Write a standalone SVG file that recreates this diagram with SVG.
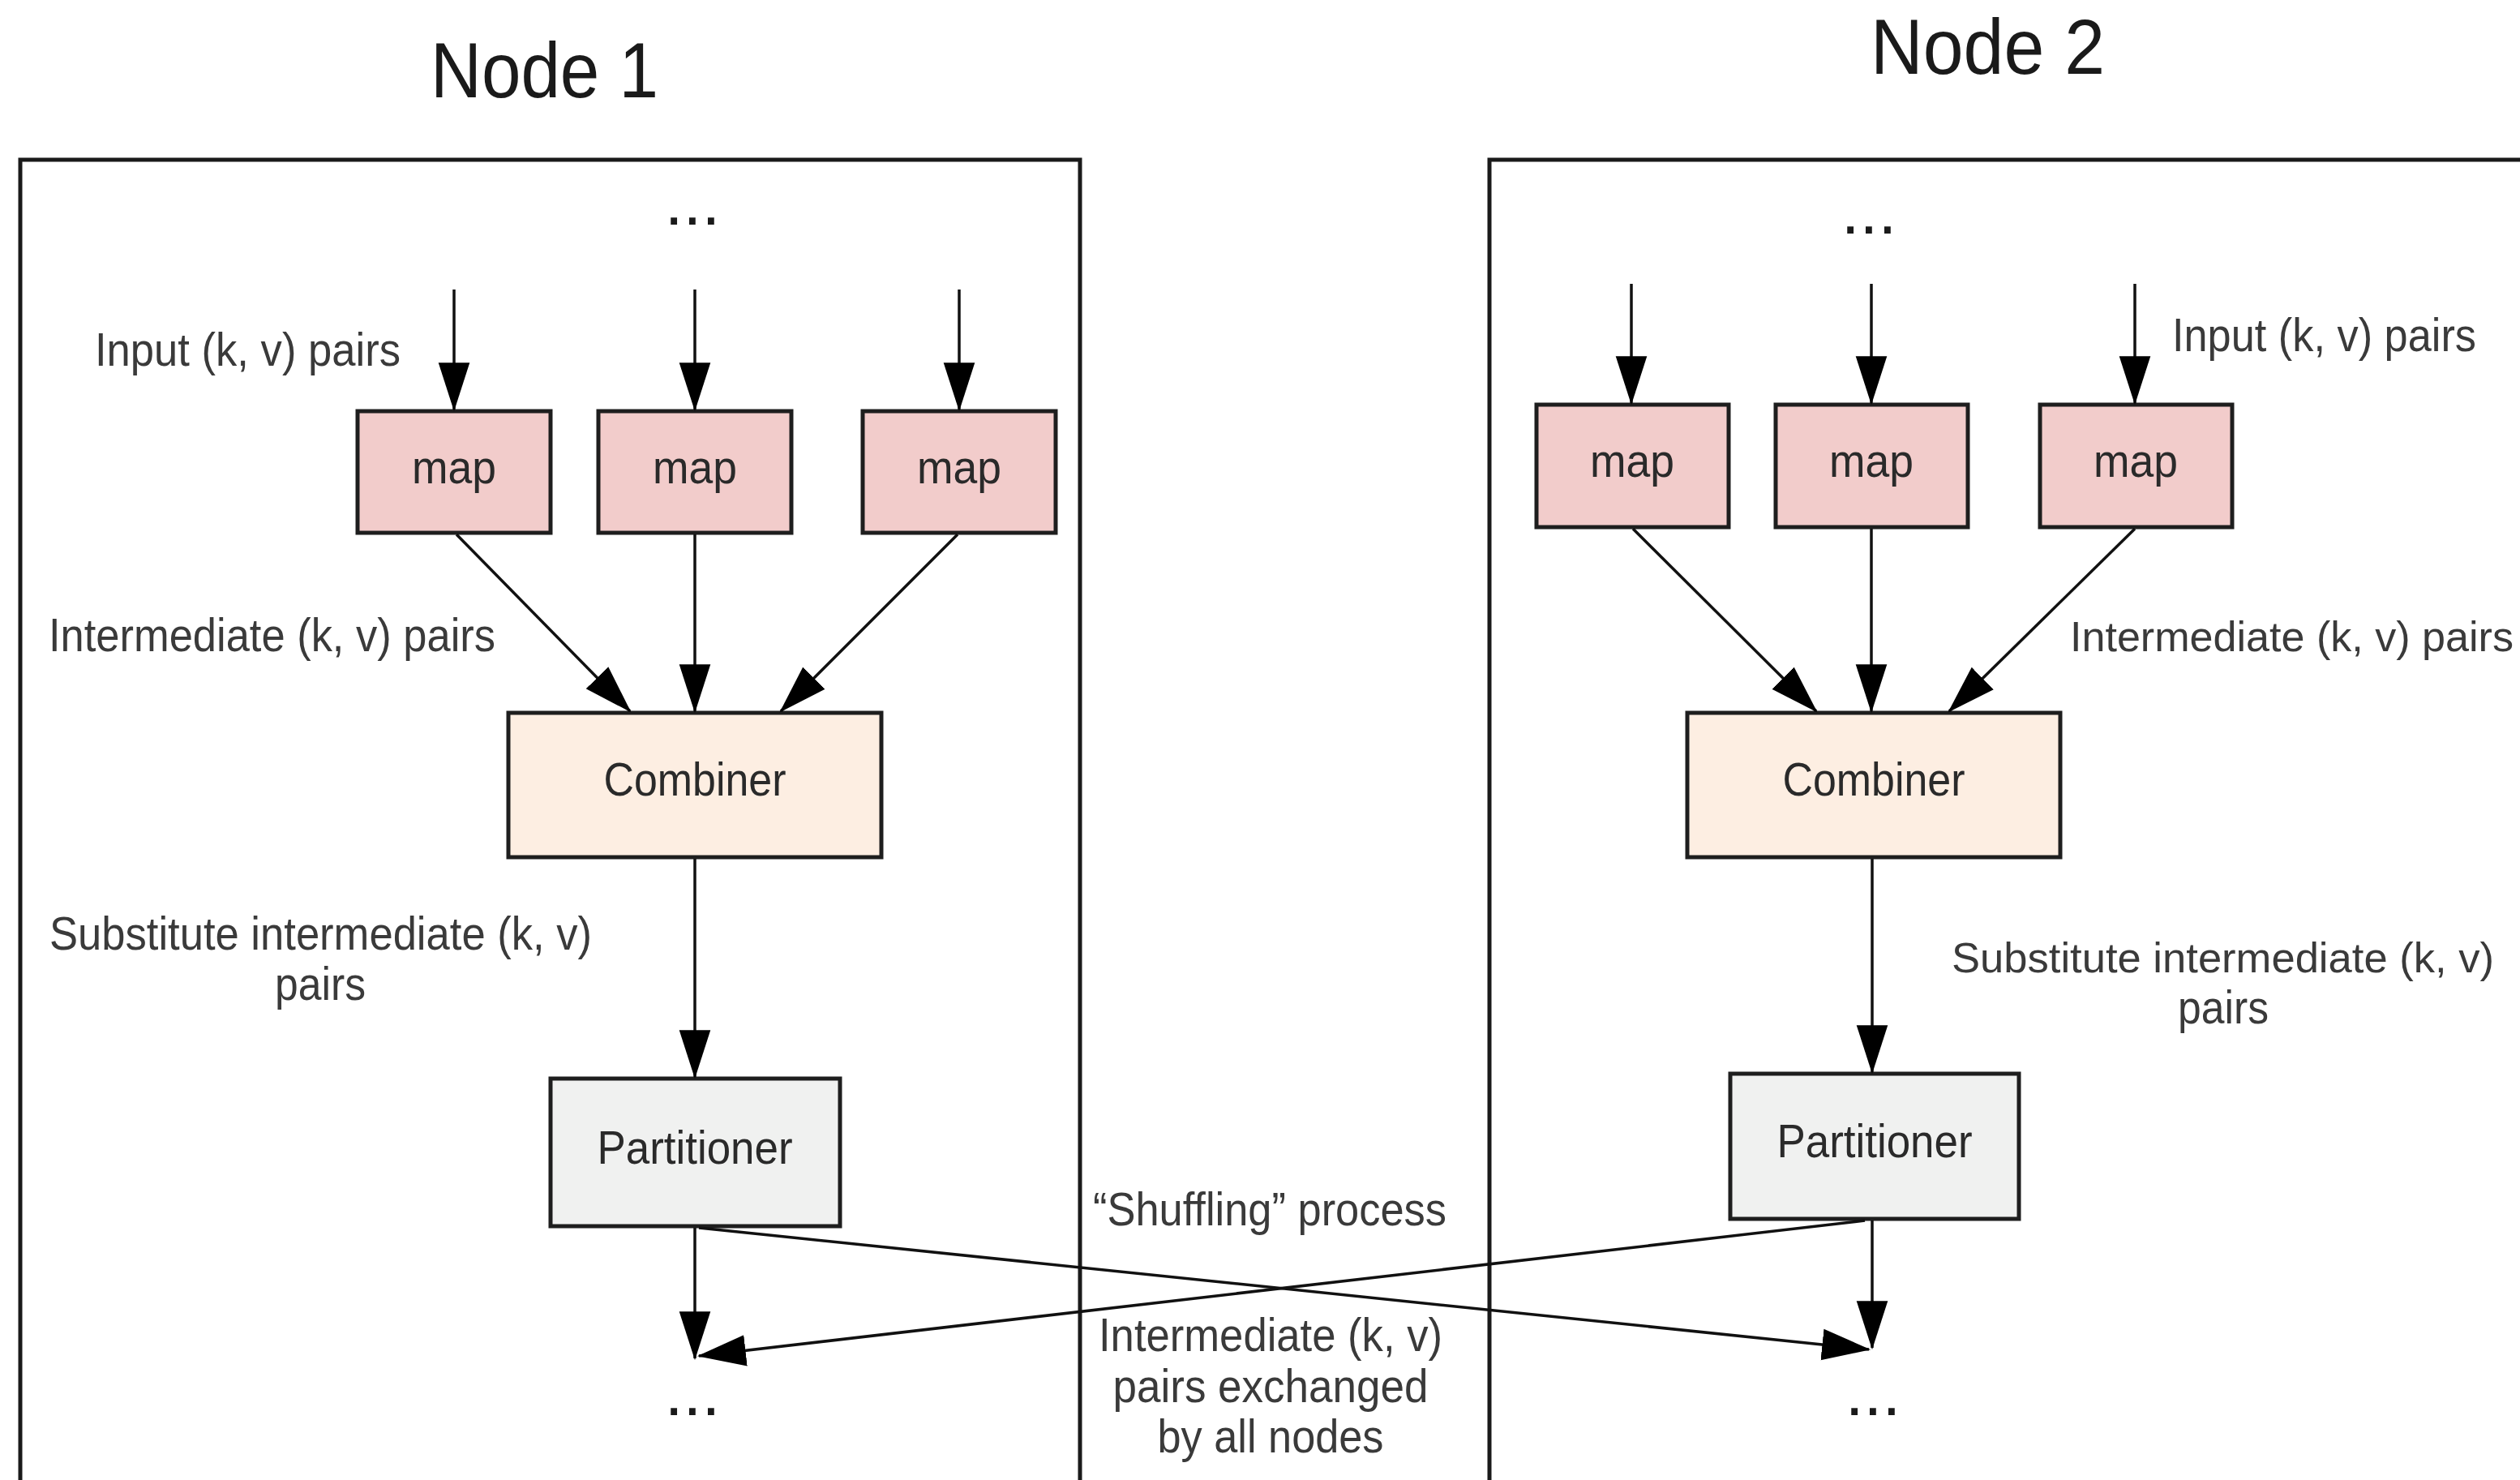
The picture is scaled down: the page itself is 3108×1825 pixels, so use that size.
<svg xmlns="http://www.w3.org/2000/svg" width="3108" height="1825" viewBox="0 0 3108 1825">
<style>
text{font-family:"Liberation Sans",Arial,sans-serif;fill:#2a2a2a}
.t{font-size:96px;fill:#1a1a1a}
.l{font-size:58px;fill:#3a3a3a}
.r{font-size:52px;fill:#3a3a3a}
.b{font-size:58px;text-anchor:middle;fill:#2a2a2a}
.d{font-size:82px;text-anchor:middle;fill:#1a1a1a}
.frame{fill:none;stroke:#1a1a1a;stroke-width:5}
.map{fill:#f2cccb;stroke:#1e1e1e;stroke-width:5}
.comb{fill:#fdeee2;stroke:#1e1e1e;stroke-width:5}
.part{fill:#f0f1f0;stroke:#1e1e1e;stroke-width:5}
.c{stroke:#111;stroke-width:3.5;fill:none;marker-end:url(#ah)}
</style>
<defs>
<marker id="ah" markerUnits="userSpaceOnUse" markerWidth="60" markerHeight="40" viewBox="0 0 56 36" refX="54" refY="18" orient="auto">
<path d="M0,0 L56,18 L0,36 Z" fill="#000"/>
</marker>
</defs>
<rect width="3108" height="1825" fill="#fff"/>

<g id="node1">
<text class="t" x="531" y="120" textLength="281" lengthAdjust="spacingAndGlyphs">Node 1</text>
<path class="frame" d="M25,1830 V197 H1332 V1830"/>
<text class="d" x="854" y="277">...</text>
<text class="l" x="117" y="451" textLength="377" lengthAdjust="spacingAndGlyphs">Input (k, v) pairs</text>
<text class="l" x="60" y="803" textLength="551" lengthAdjust="spacingAndGlyphs">Intermediate (k, v) pairs</text>
<text class="l" x="61" y="1171" textLength="669" lengthAdjust="spacingAndGlyphs">Substitute intermediate (k, v)</text>
<text class="l" x="339" y="1233" textLength="112" lengthAdjust="spacingAndGlyphs">pairs</text>
<text class="d" x="854" y="1745">...</text>
</g>
<g id="n1-map1"><rect class="map" x="441" y="507" width="238" height="150"/><text class="b" x="560" y="596" textLength="104" lengthAdjust="spacingAndGlyphs">map</text></g>
<g id="n1-map2"><rect class="map" x="738" y="507" width="238" height="150"/><text class="b" x="857" y="596" textLength="104" lengthAdjust="spacingAndGlyphs">map</text></g>
<g id="n1-map3"><rect class="map" x="1064" y="507" width="238" height="150"/><text class="b" x="1183" y="596" textLength="104" lengthAdjust="spacingAndGlyphs">map</text></g>
<g id="n1-combiner"><rect class="comb" x="627" y="879" width="460" height="178"/><text class="b" x="857" y="981" textLength="225" lengthAdjust="spacingAndGlyphs">Combiner</text></g>
<g id="n1-partitioner"><rect class="part" x="679" y="1330" width="357" height="182"/><text class="b" x="857" y="1435" textLength="241" lengthAdjust="spacingAndGlyphs">Partitioner</text></g>

<g id="node2">
<text class="t" x="2307" y="91" textLength="289" lengthAdjust="spacingAndGlyphs">Node 2</text>
<path class="frame" d="M1837,1830 V197 H3115"/>
<text class="d" x="2305" y="288">...</text>
<text class="l" x="2679" y="433" textLength="375" lengthAdjust="spacingAndGlyphs">Input (k, v) pairs</text>
<text class="r" x="2553" y="803" textLength="547" lengthAdjust="spacingAndGlyphs">Intermediate (k, v) pairs</text>
<text class="r" x="2407" y="1199" textLength="669" lengthAdjust="spacingAndGlyphs">Substitute intermediate (k, v)</text>
<text class="l" x="2686" y="1262" textLength="112" lengthAdjust="spacingAndGlyphs">pairs</text>
<text class="d" x="2310" y="1745">...</text>
</g>
<g id="n2-map1"><rect class="map" x="1895" y="499" width="237" height="151"/><text class="b" x="2013" y="588" textLength="104" lengthAdjust="spacingAndGlyphs">map</text></g>
<g id="n2-map2"><rect class="map" x="2190" y="499" width="237" height="151"/><text class="b" x="2308" y="588" textLength="104" lengthAdjust="spacingAndGlyphs">map</text></g>
<g id="n2-map3"><rect class="map" x="2516" y="499" width="237" height="151"/><text class="b" x="2634" y="588" textLength="104" lengthAdjust="spacingAndGlyphs">map</text></g>
<g id="n2-combiner"><rect class="comb" x="2081" y="879" width="460" height="178"/><text class="b" x="2311" y="981" textLength="225" lengthAdjust="spacingAndGlyphs">Combiner</text></g>
<g id="n2-partitioner"><rect class="part" x="2134" y="1324" width="356" height="179"/><text class="b" x="2312" y="1427" textLength="241" lengthAdjust="spacingAndGlyphs">Partitioner</text></g>

<g id="shuffle-labels">
<text class="l" x="1348" y="1511" textLength="436" lengthAdjust="spacingAndGlyphs">“Shuffling” process</text>
<text class="b" x="1567" y="1666" textLength="424" lengthAdjust="spacingAndGlyphs" style="fill:#3a3a3a">Intermediate (k, v)</text>
<text class="b" x="1567" y="1729" textLength="389" lengthAdjust="spacingAndGlyphs" style="fill:#3a3a3a">pairs exchanged</text>
<text class="b" x="1567" y="1791" textLength="279" lengthAdjust="spacingAndGlyphs" style="fill:#3a3a3a">by all nodes</text>
</g>

<g id="connectors">
<path class="c" d="M560,357 V505"/>
<path class="c" d="M857,357 V505"/>
<path class="c" d="M1183,357 V505"/>
<path class="c" d="M563,659 L777,877"/>
<path class="c" d="M857,659 V877"/>
<path class="c" d="M1181,659 L963,877"/>
<path class="c" d="M857,1059 V1328"/>
<path class="c" d="M857,1514 V1675"/>
<path class="c" d="M862,1514 L2305,1664"/>
<path class="c" d="M2012,350 V497"/>
<path class="c" d="M2308,350 V497"/>
<path class="c" d="M2633,350 V497"/>
<path class="c" d="M2014,652 L2240,877"/>
<path class="c" d="M2308,652 V877"/>
<path class="c" d="M2633,652 L2404,877"/>
<path class="c" d="M2309,1059 V1322"/>
<path class="c" d="M2309,1505 V1662"/>
<path class="c" d="M2300,1505 L862,1672"/>
</g>
</svg>
